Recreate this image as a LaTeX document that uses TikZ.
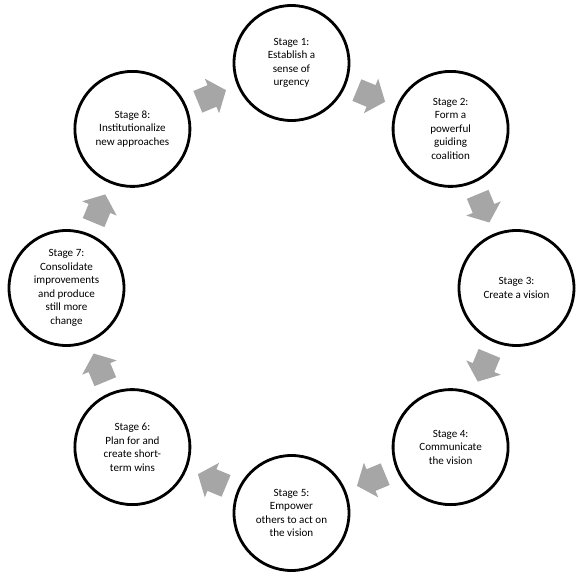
\documentclass[tikz,border=0pt]{standalone}
\usepackage{fontspec}
\setmainfont{Carlito}
\usepackage{tikz}
\usetikzlibrary{calc}

\definecolor{arrowgray}{HTML}{A6A6A6}
\tikzset{
	stagecircle/.style={circle,draw=black,line width=1.6pt,fill=white,minimum size=2.3cm,inner sep=0pt,align=center,font=\fontsize{6.3}{7.7}\selectfont},
	blockarrow/.pic={\fill[arrowgray] (-0.306,0.234) -- (0,0.234) -- (0,0.374) -- (0.304,0) -- (0,-0.374) -- (0,-0.234) -- (-0.306,-0.234) -- cycle;}
}

\begin{document}
\begin{tikzpicture}
	\useasboundingbox (-5.83,-5.86) rectangle (5.79,5.76);
	
	\node[stagecircle] (s1) at (90:4.5) {Stage 1:\\Establish a\\sense of\\urgency};
	\node[stagecircle] (s2) at (45:4.5) {Stage 2:\\Form a\\powerful\\guiding\\coalition};
	\node[stagecircle] (s3) at (0:4.5) {Stage 3:\\Create a vision};
	\node[stagecircle] (s4) at (-45:4.5) {Stage 4:\\Communicate\\the vision};
	\node[stagecircle] (s5) at (-90:4.5) {Stage 5:\\Empower\\others to act on\\the vision};
	\node[stagecircle] (s6) at (-135:4.5) {Stage 6:\\Plan for and\\create short-\\term wins};
	\node[stagecircle] (s7) at (180:4.5) {Stage 7:\\Consolidate\\improvements\\and produce\\still more\\change};
	\node[stagecircle] (s8) at (135:4.5) {Stage 8:\\Institutionalize\\new approaches};
	
	\pic[rotate=-22.5] at ($(s1)!0.5!(s2)$) {blockarrow};
	\pic[rotate=-67.5] at ($(s2)!0.5!(s3)$) {blockarrow};
	\pic[rotate=-112.5] at ($(s3)!0.5!(s4)$) {blockarrow};
	\pic[rotate=-157.5] at ($(s4)!0.5!(s5)$) {blockarrow};
	\pic[rotate=-202.5] at ($(s5)!0.5!(s6)$) {blockarrow};
	\pic[rotate=-247.5] at ($(s6)!0.5!(s7)$) {blockarrow};
	\pic[rotate=-292.5] at ($(s7)!0.5!(s8)$) {blockarrow};
	\pic[rotate=-337.5] at ($(s8)!0.5!(s1)$) {blockarrow};
\end{tikzpicture}
\end{document}
